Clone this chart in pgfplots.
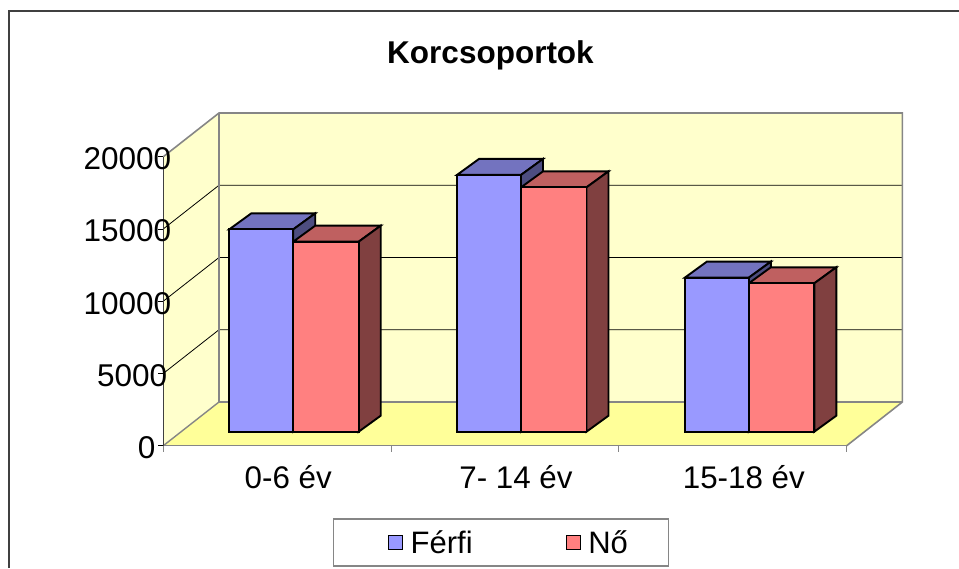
\documentclass[border=0pt]{standalone}
\usepackage{pgfplots}
\pgfplotsset{compat=1.18}
\usepackage{fontspec}
\setmainfont{Liberation Sans}
\definecolor{wall}{HTML}{FFFFCC}
\definecolor{floorc}{HTML}{FFFF99}
\definecolor{blueF}{HTML}{9999FF}
\definecolor{blueT}{HTML}{7373BF}
\definecolor{blueS}{HTML}{4D4D80}
\definecolor{redF}{HTML}{FF8080}
\definecolor{redT}{HTML}{BF6060}
\definecolor{redS}{HTML}{804040}
\definecolor{edgeg}{HTML}{868686}
\definecolor{darkg}{HTML}{404040}
\begin{document}
\begin{tikzpicture}[x=1pt,y=1pt]
\useasboundingbox (0,0) rectangle (959,568);
% chart frame: left and top only inside the picture
\draw[darkg,line width=1.8pt] (9,0) -- (9,557) -- (959,557);
\node[font=\bfseries\fontsize{31.5}{34}\selectfont,anchor=base] at (490.5,504.5) {Korcsoportok};
% Walls, floor, grid, axes
\begin{axis}[
  scale only axis, width=683.4pt, height=289pt,
  at={(163.3pt,122.3pt)}, anchor=south west,
  xmin=0, xmax=3, ymin=0, ymax=20000, clip=false, axis on top,
  axis x line=bottom, axis y line=left,
  x axis line style={-,edgeg,line width=1.2pt},
  y axis line style={-,darkg,line width=1.2pt},
  xtick={0.5,1.5,2.5}, xticklabels={0-6 év,7- 14 év,15-18 év},
  minor xtick={0,1,2,3},
  major x tick style={draw=none},
  minor x tick style={edgeg,line width=1pt},
  minor tick length=6pt,
  x tick label style={font=\fontsize{31.3}{34}\selectfont,anchor=base,yshift=-37.5pt,xshift=11pt,inner sep=0pt},
  ytick={0,5000,10000,15000,20000},
  yticklabels={{\mbox{0\kern15.7pt}},{\mbox{5000\kern4pt}},10000,15000,20000},
  y tick style={black,line width=0.8pt},
  tick align=outside, major tick length=5pt,
  y tick label style={font=\fontsize{31.5}{34}\selectfont,anchor=east,xshift=13pt,yshift=-2pt,inner sep=0pt},
  scaled y ticks=false,
]
\addplot[fill=wall,draw=none,forget plot] coordinates {(0,0) (0.2445,3024) (3.2445,3024) (3.2445,23024) (0.2445,23024) (0,20000)} -- cycle;
\addplot[fill=floorc,draw=none,forget plot] coordinates {(0,0) (0.2445,3024) (3.2445,3024) (3,0)} -- cycle;
% grid lines
\addplot[black,line width=0.8pt,forget plot] coordinates {(0,5000) (0.2445,8024) (3.2445,8024)};
\addplot[black,line width=0.8pt,forget plot] coordinates {(0,10000) (0.2445,13024) (3.2445,13024)};
\addplot[black,line width=0.8pt,forget plot] coordinates {(0,15000) (0.2445,18024) (3.2445,18024)};
% outlines
\addplot[edgeg,line width=1.6pt,forget plot] coordinates {(0,20000) (0.2445,23024) (3.2445,23024) (3.2445,3024) (3,0)};
\addplot[edgeg,line width=1.6pt,forget plot] coordinates {(0.2445,23024) (0.2445,3024) (3.2445,3024)};
\addplot[edgeg,line width=1.4pt,forget plot] coordinates {(0,0) (0.2445,3024)};
\end{axis}
% Bars, on a plane in front of the back wall
\begin{axis}[
  scale only axis, width=683.4pt, height=289pt,
  at={(179.3pt,136.3pt)}, anchor=south west,
  xmin=0, xmax=3, ymin=0, ymax=20000, clip=false, hide axis,
  legend style={at={(0.4704,-0.3834)},anchor=center,draw=edgeg,line width=1.2pt,
    font=\fontsize{31}{34}\selectfont,legend columns=2,inner xsep=38.5pt,inner ysep=9.3pt,
    /tikz/every even column/.style={column sep=91pt}},
  legend cell align=left,
  every axis plot/.append style={line width=1.9pt,line join=miter},
]
% tops and sides, category 1
\addplot[fill=blueT,draw=black,forget plot] coordinates {(0.2191,14000) (0.3157,15107) (0.5966,15107) (0.5000,14000)} -- cycle;
\addplot[fill=blueS,draw=black,forget plot] coordinates {(0.5000,14000) (0.5966,15107) (0.5966,1107) (0.5000,0)} -- cycle;
\addplot[fill=redT,draw=black,forget plot] coordinates {(0.5000,13150) (0.5966,14257) (0.8841,14257) (0.7875,13150)} -- cycle;
\addplot[fill=redS,draw=black,forget plot] coordinates {(0.7875,13150) (0.8841,14257) (0.8841,1107) (0.7875,0)} -- cycle;
% category 2
\addplot[fill=blueT,draw=black,forget plot] coordinates {(1.2191,17770) (1.3157,18877) (1.5966,18877) (1.5000,17770)} -- cycle;
\addplot[fill=blueS,draw=black,forget plot] coordinates {(1.5000,17770) (1.5966,18877) (1.5966,1107) (1.5000,0)} -- cycle;
\addplot[fill=redT,draw=black,forget plot] coordinates {(1.5000,16910) (1.5966,18017) (1.8841,18017) (1.7875,16910)} -- cycle;
\addplot[fill=redS,draw=black,forget plot] coordinates {(1.7875,16910) (1.8841,18017) (1.8841,1107) (1.7875,0)} -- cycle;
% category 3
\addplot[fill=blueT,draw=black,forget plot] coordinates {(2.2191,10660) (2.3157,11767) (2.5966,11767) (2.5000,10660)} -- cycle;
\addplot[fill=blueS,draw=black,forget plot] coordinates {(2.5000,10660) (2.5966,11767) (2.5966,1107) (2.5000,0)} -- cycle;
\addplot[fill=redT,draw=black,forget plot] coordinates {(2.5000,10270) (2.5966,11377) (2.8841,11377) (2.7875,10270)} -- cycle;
\addplot[fill=redS,draw=black,forget plot] coordinates {(2.7875,10270) (2.8841,11377) (2.8841,1107) (2.7875,0)} -- cycle;
% front faces
\addplot[ybar,bar width=64pt,bar shift=-32pt,fill=blueF,draw=black,area legend,
  legend image code/.code={\path[draw=none,fill=none] (-17pt,0pt) -- (20pt,0pt);\draw[fill=blueF,draw=black,line width=1.3pt] (0pt,-7pt) rectangle (14pt,7pt);}]
  coordinates {(0.5,14000) (1.5,17770) (2.5,10660)};
\addlegendentry{Férfi}
\addplot[ybar,bar width=65.5pt,bar shift=32.75pt,fill=redF,draw=black,area legend,
  legend image code/.code={\path[draw=none,fill=none] (0pt,0pt) -- (20pt,0pt);\draw[fill=redF,draw=black,line width=1.3pt] (0pt,-7pt) rectangle (14pt,7pt);}]
  coordinates {(0.5,13150) (1.5,16910) (2.5,10270)};
\addlegendentry{Nő}
\end{axis}
\end{tikzpicture}
\end{document}
